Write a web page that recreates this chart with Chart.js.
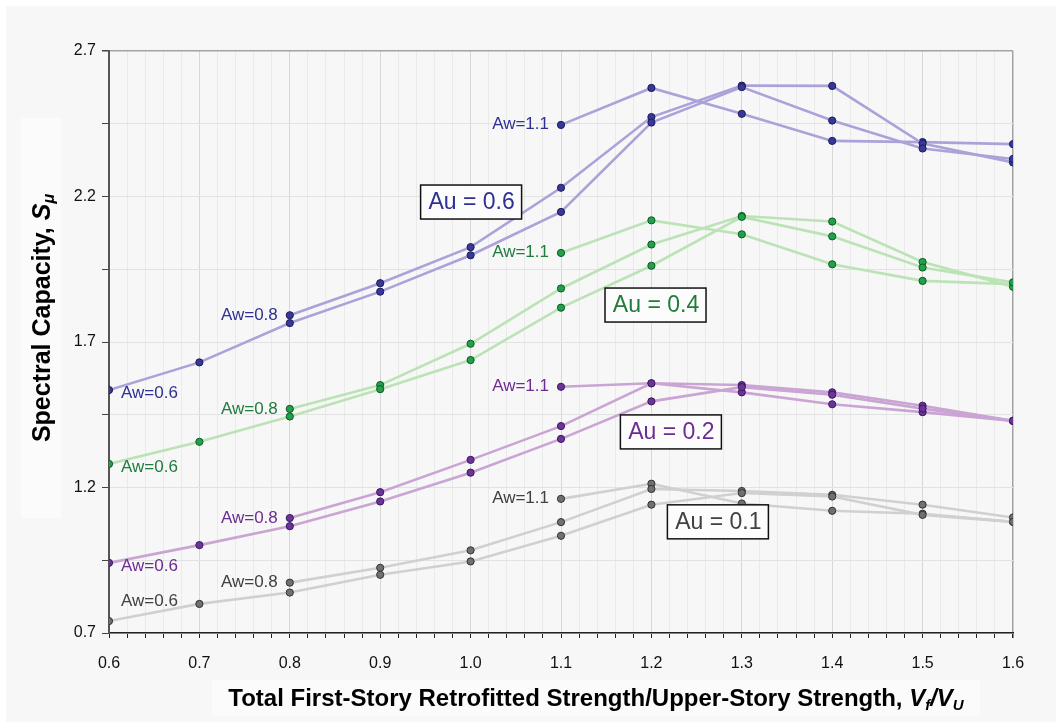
<!DOCTYPE html>
<html>
<head>
<meta charset="utf-8">
<style>
  html, body { margin: 0; padding: 0; background: #fff; }
  canvas { display: block; }
</style>
<script src="https://cdn.jsdelivr.net/npm/chart.js@4.4.1/dist/chart.umd.min.js"></script>
</head>
<body>
<canvas id="chart" width="1056" height="726"></canvas>
<script>
// x positions for each family of curves (Vf/VU)
var xsFrom06 = [0.6, 0.7, 0.8, 0.9, 1.0, 1.1, 1.2, 1.3, 1.4, 1.5, 1.6];
var xsFrom08 = [0.8, 0.9, 1.0, 1.1, 1.2, 1.3, 1.4, 1.5, 1.6];
var xsFrom11 = [1.1, 1.2, 1.3, 1.4, 1.5, 1.6];

// spectral capacity, Au = 0.6
var au06Aw06 = [1.535, 1.630, 1.765, 1.873, 1.998, 2.147, 2.454, 2.576, 2.461, 2.365, 2.329];
var au06Aw08 = [1.792, 1.902, 2.026, 2.230, 2.473, 2.581, 2.580, 2.382, 2.317];
var au06Aw11 = [2.446, 2.573, 2.484, 2.391, 2.387, 2.380];

// Au = 0.4
var au04Aw06 = [1.281, 1.357, 1.444, 1.538, 1.638, 1.818, 1.962, 2.130, 2.063, 1.956, 1.905];
var au04Aw08 = [1.470, 1.552, 1.694, 1.884, 2.035, 2.133, 2.114, 1.975, 1.890];
var au04Aw11 = [2.006, 2.118, 2.070, 1.967, 1.910, 1.899];

// Au = 0.2
var au02Aw06 = [0.941, 1.002, 1.067, 1.152, 1.251, 1.367, 1.496, 1.545, 1.519, 1.471, 1.429];
var au02Aw08 = [1.095, 1.184, 1.295, 1.411, 1.558, 1.552, 1.527, 1.481, 1.429];
var au02Aw11 = [1.546, 1.558, 1.527, 1.486, 1.459, 1.429];

// Au = 0.1
var au01Aw06 = [0.741, 0.800, 0.839, 0.900, 0.946, 1.034, 1.141, 1.181, 1.169, 1.106, 1.082];
var au01Aw08 = [0.873, 0.924, 0.984, 1.081, 1.195, 1.188, 1.175, 1.141, 1.097];
var au01Aw11 = [1.161, 1.213, 1.145, 1.120, 1.110, 1.082];

// axis ticks
var yMin = 0.7, yMax = 2.7, yStep = 0.25;
var xMin = 0.6, xMax = 1.6, xStep = 0.02;

var groups = [
  { name: 'Au = 0.6', s06: au06Aw06, s08: au06Aw08, s11: au06Aw11,
    line: '#aba2d9', dot: '#383899', edge: '#1b1b5a', text: '#2e3192', box: [1.0, 2.181], low: 3 },
  { name: 'Au = 0.4', s06: au04Aw06, s08: au04Aw08, s11: au04Aw11,
    line: '#bbe3b6', dot: '#23a04c', edge: '#0b5a22', text: '#1f7c3d', box: [1.204, 1.827], low: 3 },
  { name: 'Au = 0.2', s06: au02Aw06, s08: au02Aw08, s11: au02Aw11,
    line: '#caa5d4', dot: '#6c3497', edge: '#3a1760', text: '#6b2d8f', box: [1.221, 1.391], low: 3 },
  { name: 'Au = 0.1', s06: au01Aw06, s08: au01Aw08, s11: au01Aw11,
    line: '#d0d0d0', dot: '#707070', edge: '#333333', text: '#404040', box: [1.273, 1.082], low: -20 }
];

function pts(xs, ys) {
  var out = [];
  for (var i = 0; i < ys.length; i++) out.push({ x: xs[i], y: ys[i] });
  return out;
}

var datasets = [];
groups.forEach(function (g) {
  [[xsFrom06, g.s06], [xsFrom08, g.s08], [xsFrom11, g.s11]].forEach(function (p) {
    datasets.push({
      data: pts(p[0], p[1]),
      borderColor: g.line,
      borderWidth: 2.6,
      pointRadius: 3.6,
      pointBorderWidth: 1,
      pointBackgroundColor: g.dot,
      pointBorderColor: g.edge,
      tension: 0,
      fill: false
    });
  });
});

var FONT = "'Liberation Sans', Arial, sans-serif";

// grey page, white margins, light boxes behind the axis titles
var backdrop = {
  id: 'backdrop',
  beforeDraw: function (chart) {
    var ctx = chart.ctx;
    ctx.save();
    ctx.fillStyle = '#ffffff';
    ctx.fillRect(0, 0, chart.width, chart.height);
    ctx.fillStyle = '#f7f7f7';
    ctx.fillRect(6, 6, chart.width - 6, chart.height - 10);
    ctx.fillStyle = '#fbfbfb';
    ctx.fillRect(21, 118, 40, 400);
    ctx.fillRect(212, 680, 768, 36);
    ctx.restore();
  }
};

// draw a run of [text, style] pieces starting at x along the baseline
function drawRuns(ctx, runs, x, y) {
  runs.forEach(function (r) {
    ctx.font = r.font;
    ctx.fillText(r.t, x, y + (r.dy || 0));
    x += ctx.measureText(r.t).width;
  });
}
function runsWidth(ctx, runs) {
  var w = 0;
  runs.forEach(function (r) { ctx.font = r.font; w += ctx.measureText(r.t).width; });
  return w;
}

var labels = {
  id: 'labels',
  afterDatasetsDraw: function (chart) {
    var ctx = chart.ctx;
    var xs = chart.scales.x, ys = chart.scales.y;
    ctx.save();
    ctx.textBaseline = 'middle';
    groups.forEach(function (g) {
      ctx.fillStyle = g.text;
      ctx.font = '17px ' + FONT;
      // Aw=1.1 and Aw=0.8 to the left of their first point, Aw=0.6 beside the axis
      ctx.textAlign = 'right';
      ctx.fillText('Aw=1.1', xs.getPixelForValue(xsFrom11[0]) - 12, ys.getPixelForValue(g.s11[0]) - 1);
      ctx.fillText('Aw=0.8', xs.getPixelForValue(xsFrom08[0]) - 12, ys.getPixelForValue(g.s08[0]));
      ctx.textAlign = 'left';
      ctx.fillText('Aw=0.6', xs.getPixelForValue(xsFrom06[0]) + 12, ys.getPixelForValue(g.s06[0]) + g.low);

      // boxed Au caption
      var cx = xs.getPixelForValue(g.box[0]), cy = ys.getPixelForValue(g.box[1]);
      ctx.fillStyle = '#fbfcfb';
      ctx.fillRect(cx - 50, cy - 17, 101, 34);
      ctx.strokeStyle = '#111';
      ctx.lineWidth = 1.5;
      ctx.strokeRect(cx - 50, cy - 17, 101, 34);
      ctx.fillStyle = g.text;
      ctx.font = '23px ' + FONT;
      ctx.textAlign = 'center';
      ctx.fillText(g.name, cx + 1, cy + 1);
    });
    ctx.restore();
  },
  afterDraw: function (chart) {
    var ctx = chart.ctx;
    ctx.save();
    ctx.fillStyle = '#000';
    ctx.textAlign = 'left';
    ctx.textBaseline = 'alphabetic';
    var b = 'bold 24px ' + FONT, bi = 'italic bold 24px ' + FONT, sub = 'italic bold 15px ' + FONT;

    // x axis title
    var xr = [
      { t: 'Total First-Story Retrofitted Strength/Upper-Story Strength, ', font: b },
      { t: 'V', font: bi }, { t: 'f', font: sub, dy: 4 },
      { t: '/', font: bi },
      { t: 'V', font: bi }, { t: 'U', font: sub, dy: 4 }
    ];
    var w = runsWidth(ctx, xr);
    drawRuns(ctx, xr, 596 - w / 2, 706);

    // y axis title, rotated
    var yb = 'bold 25px ' + FONT, ybi = 'italic bold 25px ' + FONT, ysub = 'italic bold 16px ' + FONT;
    var yr = [
      { t: 'Spectral Capacity, ', font: yb },
      { t: 'S', font: ybi }, { t: '\u03bc', font: ysub, dy: 4 }
    ];
    w = runsWidth(ctx, yr);
    ctx.translate(50, 318);
    ctx.rotate(-Math.PI / 2);
    drawRuns(ctx, yr, -w / 2, 0);
    ctx.restore();
  }
};

new Chart(document.getElementById('chart'), {
  type: 'line',
  data: { datasets: datasets },
  plugins: [backdrop, labels],
  options: {
    responsive: false,
    animation: false,
    devicePixelRatio: 1,
    layout: { padding: { top: 51, right: 43, left: 0, bottom: 0 } },
    plugins: { legend: { display: false }, tooltip: { enabled: false } },
    scales: {
      x: {
        type: 'linear', min: xMin, max: xMax,
        afterBuildTicks: function (scale) {
          var t = [];
          for (var i = 0; i <= 50; i++) t.push({ value: +(xMin + i * xStep).toFixed(2) });
          scale.ticks = t;
        },
        afterFit: function (scale) { scale.height = 93; },
        ticks: {
          autoSkip: false, maxRotation: 0, padding: 16,
          color: '#111', font: { size: 16, family: FONT },
          callback: function (v, i) { return i % 5 === 0 ? v.toFixed(1) : ''; }
        },
        grid: {
          color: function (c) {
            if (c.index === 50) return '#a3a3a3';
            return c.index % 5 === 0 ? '#d7d7d7' : '#eaeaea';
          },
          lineWidth: function (c) { return c.index === 50 ? 1.5 : 1; },
          tickColor: '#222', tickLength: 5
        },
        border: { color: '#222', width: 1.5 }
      },
      y: {
        type: 'linear', min: yMin, max: yMax,
        afterBuildTicks: function (scale) {
          var t = [];
          for (var i = 0; i <= 8; i++) t.push({ value: +(yMin + i * yStep).toFixed(2) });
          scale.ticks = t;
        },
        afterFit: function (scale) { scale.width = 109; },
        ticks: {
          padding: 6, color: '#111', font: { size: 16, family: FONT },
          callback: function (v, i) { return i % 2 === 0 ? v.toFixed(1) : ''; }
        },
        grid: {
          color: function (c) { return c.index === 8 ? '#a3a3a3' : '#e2e2e2'; },
          lineWidth: function (c) { return c.index === 8 ? 1.5 : 1; },
          tickColor: '#444', tickLength: 7
        },
        border: { color: '#555', width: 2 }
      }
    }
  }
});
</script>
</body>
</html>
